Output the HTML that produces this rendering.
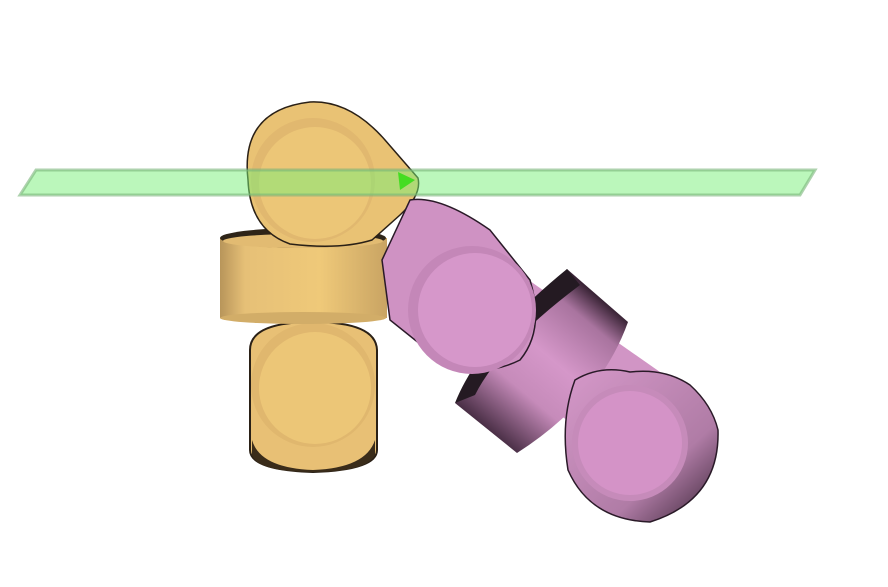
<!DOCTYPE html>
<html>
<head>
<meta charset="utf-8">
<style>
  html,body{margin:0;padding:0;background:#fff;}
  svg{display:block;}
</style>
</head>
<body>
<svg width="888" height="587" viewBox="0 0 888 587" xmlns="http://www.w3.org/2000/svg">
  <defs>
    <linearGradient id="ycyl" x1="0" x2="1" y1="0" y2="0">
      <stop offset="0" stop-color="#b8955a"/>
      <stop offset="0.15" stop-color="#e6c077"/>
      <stop offset="0.6" stop-color="#efc979"/>
      <stop offset="1" stop-color="#c9a463"/>
    </linearGradient>
    <linearGradient id="pcyl" gradientUnits="userSpaceOnUse" x1="486" y1="428" x2="597" y2="296">
      <stop offset="0" stop-color="#4a2f46"/>
      <stop offset="0.3" stop-color="#c68bba"/>
      <stop offset="0.55" stop-color="#d597c9"/>
      <stop offset="0.85" stop-color="#a9749f"/>
      <stop offset="1" stop-color="#3a2436"/>
    </linearGradient>
    <linearGradient id="pjoint" gradientUnits="userSpaceOnUse" x1="580" y1="380" x2="700" y2="510">
      <stop offset="0" stop-color="#d195c5"/>
      <stop offset="0.7" stop-color="#b07ca6"/>
      <stop offset="1" stop-color="#5a3c55"/>
    </linearGradient>
  </defs>

  <g>
    <g>
      <path d="M250 350 Q250 322 313 322 Q376 322 377 350 L377 450 Q377 470 313 472 Q250 470 250 450 Z" fill="#e8c075" stroke="#2a2016" stroke-width="2"/>
      <path d="M252 440 Q260 468 313 470 Q366 468 375 440 L375 455 Q366 472 313 472 Q258 472 252 455Z" fill="#3a2c1a"/>
      <circle cx="313" cy="385" r="62" fill="#e0b76e"/>
      <circle cx="315" cy="388" r="56" fill="#ecc677"/>
    </g>
    <g>
      <rect x="220" y="238" width="167" height="80" fill="url(#ycyl)"/>
      <ellipse cx="303" cy="318" rx="83" ry="6" fill="#d2ad68"/>
      <ellipse cx="303" cy="238" rx="83" ry="10" fill="#2e2418"/>
      <ellipse cx="303" cy="241" rx="80" ry="7" fill="#e2bb72"/>
    </g>
    <g>
      <path d="M248 180 Q240 110 310 102 Q350 100 385 140 L418 178 Q422 195 400 215 L372 240 Q340 250 290 244 Q250 230 248 180Z" fill="#e9c274" stroke="#2a2016" stroke-width="1.5"/>
      <circle cx="313" cy="180" r="62" fill="#e1b86f"/>
      <circle cx="315" cy="183" r="56" fill="#ecc677"/>
    </g>
  </g>

  <g>
    <path d="M500 260 L700 400 L640 470 L450 340Z" fill="#d195c5"/>
    <g>
      <path d="M455 403 L567 269 L628 322 Q600 400 517 453 Z" fill="url(#pcyl)"/>
      <path d="M455 403 Q480 340 567 269 L580 285 Q500 345 475 395 Z" fill="#241a22"/>
    </g>
    <g>
      <path d="M575 380 Q600 365 630 372 Q665 368 690 385 Q712 405 718 430 Q720 500 650 522 Q590 520 568 470 Q560 420 575 380Z" fill="url(#pjoint)" stroke="#2a1a28" stroke-width="1.5"/>
      <circle cx="630" cy="443" r="58" fill="#c68bba"/>
      <circle cx="630" cy="443" r="52" fill="#d493c7"/>
    </g>
    <g>
      <path d="M382 260 L410 200 Q440 195 490 230 L530 280 Q545 330 520 360 Q480 380 440 360 L390 320Z" fill="#cf92c3" stroke="#2a1a28" stroke-width="1.5"/>
      <circle cx="472" cy="310" r="64" fill="#c487b8"/>
      <circle cx="475" cy="310" r="57" fill="#d697ca"/>
    </g>
  </g>

  <polygon points="20,195 36,170 815,170 800,195" fill="rgba(120,240,120,0.5)" stroke="rgba(120,180,120,0.6)" stroke-width="3"/>
  <path d="M398 172 L415 180 L400 190Z" fill="#44dd22"/>
</svg>
</body>
</html>
